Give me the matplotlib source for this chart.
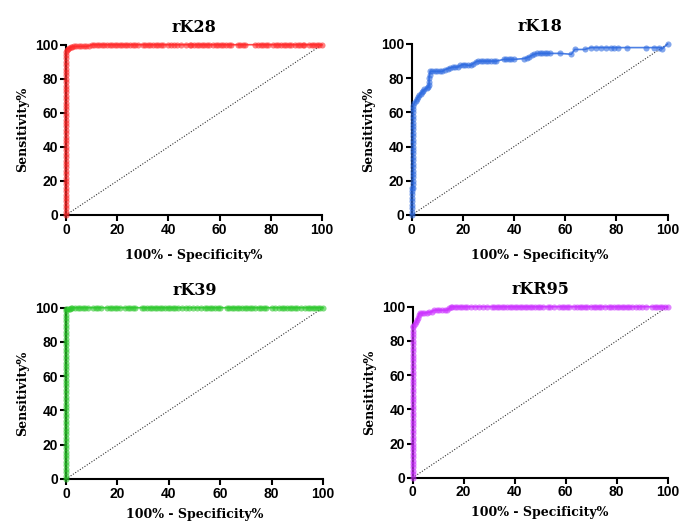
import matplotlib
matplotlib.use("Agg")
import matplotlib.pyplot as plt
import numpy as np

# ---------------- data ----------------
titles = ["rK28", "rK18", "rK39", "rKR95"]
colors = ["#ff2a2a", "#2f6be0", "#2ec82e", "#cc33ff"]
ticks = [0, 20, 40, 60, 80, 100]

# rK28
rk28_vert_tpr = [0, 2, 4, 6, 8, 10, 12, 14, 16, 18, 20, 22, 24, 26, 28, 30, 32, 34, 36, 38,
                 40, 42, 44, 46, 48, 50, 52, 54, 56, 58, 60, 62, 64, 66, 68, 70, 72, 74, 76,
                 78, 80, 82, 84, 86, 88, 90, 92, 94, 96]
rk28_knee_fpr = [0.3, 0.7, 1.2, 1.8, 2.5, 3.3, 4, 5, 6, 7, 8, 9, 10]
rk28_knee_tpr = [97, 97.5, 98, 98.5, 98.8, 99, 99, 99, 99, 99, 99, 99.3, 100]
rk28_top_fpr = [11, 12, 13, 14, 15, 16, 17, 18, 19, 20, 21, 22, 23, 24, 25, 26, 27, 28,
                30, 31, 32, 33, 34, 35, 36, 37, 38, 40, 41, 42, 43.5, 45, 47, 48.5, 49, 50,
                51, 52, 53, 54, 55, 56, 57.5, 58.5, 59.5, 60.5, 61.5, 62.5, 63.5, 64.5,
                67, 68, 69, 70, 74, 75, 76, 77, 78, 79, 81, 82, 83, 84, 85, 86, 87, 88,
                89.5, 90.5, 91.5, 92.5, 93, 95, 96, 97, 98, 99, 100]

# rK18
rk18_vert_tpr = [0, 2, 4, 6, 8, 10, 12, 14, 15.5]
rk18_step_tpr = [16, 18, 20, 22, 24, 26, 28, 30, 32, 34, 36, 38, 40, 42, 44, 46, 48, 50,
                 52, 54, 56, 58, 60, 62, 64]
rk18_curve_fpr = [1, 1.5, 2, 2.5, 3, 3.5, 4, 4.5, 5, 5.8, 6.5, 6.8, 6.8, 6.8, 7, 7.2, 8, 9,
                  10, 11, 12, 13, 14, 15, 16, 17, 18, 19, 20, 21, 22, 23, 24, 25, 26, 27,
                  28, 29, 30, 31, 32, 33, 36, 37, 38, 39, 40, 44, 45, 46, 47, 48, 49, 50,
                  51, 52, 53, 54, 58, 62.4, 63.7, 67.6, 70, 72, 74, 76, 78, 79, 80.5, 84,
                  91.5, 94.8, 96.8, 98, 100]
rk18_curve_tpr = [65.5, 66.5, 68, 69, 70, 71, 72, 72.5, 73.5, 74, 75, 76, 78, 80, 82, 84,
                  84, 84, 84, 84, 84, 85, 85.5, 86, 86.5, 86.5, 86.5, 87.5, 88, 88, 87.5,
                  87.5, 88.5, 89.5, 90, 90, 90, 90, 90, 90, 90, 90, 91, 91, 91, 91, 91,
                  91.5, 92, 92.5, 93.5, 94, 94.5, 94.5, 94.5, 94.5, 94.5, 94.5, 94.5, 94,
                  96.8, 96.8, 97.9, 97.9, 97.9, 97.9, 97.9, 97.9, 97.9, 97.9, 97.9, 97.9,
                  97.9, 97.3, 100]

# rK39
rk39_vert_tpr = [0, 2, 4, 6, 8, 10, 12, 14, 16, 18, 20, 22, 24, 26, 28, 30, 32, 34, 36, 38,
                 40, 42, 44, 46, 48, 50, 52, 54, 56, 58, 60, 62, 64, 66, 68, 70, 72, 74, 76,
                 78, 80, 82, 84, 86, 88, 90, 92, 94, 96, 98, 99]
rk39_knee_fpr = [0.5, 1, 1.5, 2]
rk39_knee_tpr = [99, 99, 99.3, 99.6]
rk39_top_fpr = [2.5, 3.5, 4.5, 5.5, 6.5, 7.5, 8.5, 10.5, 11.5, 12.5, 13.5, 16, 17, 18, 19,
                20, 21, 23, 24, 25, 26, 27, 29.5, 30.5, 31.5, 32.5, 33.5, 34.5, 35.5, 36.5,
                37.5, 38.5, 39.5, 40.5, 41.5, 42.5, 43.5, 45, 46.5, 48, 49.5, 51, 52.5, 54,
                55, 56, 57, 58, 59, 60, 62.5, 63.5, 64.5, 65.5, 66.5, 67.5, 68.5, 69.5,
                70.5, 71.5, 72.5, 73.5, 75, 76, 77, 78, 80, 81.5, 83, 84, 85, 86, 87, 88,
                89, 90, 91.5, 93, 94, 95, 96, 97, 98, 99, 100]

# rKR95
rkr95_vert_tpr = [0, 2, 4, 6, 8, 10, 12, 14, 16, 18, 20, 22, 24, 26, 28, 30, 32, 34, 36,
                  38, 40, 42, 44, 46, 48, 50, 52, 54, 56, 58, 60, 62, 64, 66, 68, 70, 72,
                  74, 76, 78, 80, 82, 84, 86, 88]
rkr95_knee_fpr = [0.3, 0.8, 1.2, 1.6, 2, 2.3, 2.7, 3.5, 4.5, 5.5, 6.5, 7.5, 8.3, 9.5, 10.5,
                  11.5, 12.5, 13.5, 14.3, 15]
rkr95_knee_tpr = [89, 90, 91, 92, 93.5, 95, 96.3, 96.3, 96.3, 96.5, 96.8, 97, 98, 98, 98,
                  98, 98, 98, 99, 100]
rkr95_top_fpr = [15.5, 16.5, 17.5, 18.5, 19.5, 20.5, 21.5, 23, 24.5, 26, 27.5, 29, 31, 32,
                 33, 34, 35, 36, 37, 38, 39, 40, 41, 42, 43, 44, 45, 46, 47, 48, 49, 50,
                 51, 53, 54, 55.5, 57.5, 58.5, 59.5, 60.5, 61.5, 63.5, 64.5, 65.5, 66.5,
                 67.5, 68.5, 70, 71, 72, 73, 74, 75.5, 77, 78, 79, 80, 81, 82, 83, 84, 85,
                 86, 87.5, 89, 90, 91.5, 94, 95, 96, 97, 98, 99, 100]


def build(vert_tpr, knee_fpr, knee_tpr, top_fpr):
    fpr = [0.0 for _ in vert_tpr] + list(knee_fpr) + list(top_fpr)
    tpr = list(vert_tpr) + list(knee_tpr) + [100.0 for _ in top_fpr]
    return fpr, tpr


curves = [
    build(rk28_vert_tpr, rk28_knee_fpr, rk28_knee_tpr, rk28_top_fpr),
    ([0.0 for _ in rk18_vert_tpr] + [0.6 for _ in rk18_step_tpr] + rk18_curve_fpr,
     rk18_vert_tpr + rk18_step_tpr + rk18_curve_tpr),
    build(rk39_vert_tpr, rk39_knee_fpr, rk39_knee_tpr, rk39_top_fpr),
    build(rkr95_vert_tpr, rkr95_knee_fpr, rkr95_knee_tpr, rkr95_top_fpr),
]

# ---------------- layout ----------------
W, H = 680, 522
fig = plt.figure(figsize=(W / 100, H / 100), dpi=100)

# axes rects in pixels: (x0, x1, ytop, ybottom)
rects_px = [
    (66, 322, 44.7, 215),
    (411.7, 667.5, 44, 215),
    (66, 323, 307.7, 479),
    (412.7, 667.5, 306.7, 477.7),
]
xlabel_pads = [9, 9, 5, 5]

for i, (x0, x1, yt, yb) in enumerate(rects_px):
    ax = fig.add_axes([x0 / W, 1 - yb / H, (x1 - x0) / W, (yb - yt) / H])
    fpr, tpr = curves[i]
    ax.plot([0, 100], [0, 100], linestyle=(0, (1, 1.5)), color="#333333",
            linewidth=0.8, zorder=1)
    ax.plot(fpr, tpr, color=colors[i], linewidth=1.2, alpha=0.85, zorder=2,
            clip_on=False)
    ax.plot(fpr, tpr, linestyle="none", marker="o", markersize=4.4,
            color=colors[i], alpha=0.6, markeredgewidth=0, zorder=3, clip_on=False)

    ax.set_xlim(0, 100)
    ax.set_ylim(0, 100)
    ax.set_xticks(ticks)
    ax.set_yticks(ticks)
    ax.set_xticklabels([str(t) for t in ticks], fontfamily="Liberation Sans",
                       fontweight="bold", fontsize=10)
    ax.set_yticklabels([str(t) for t in ticks], fontfamily="Liberation Sans",
                       fontweight="bold", fontsize=10)
    for s in ["top", "right"]:
        ax.spines[s].set_visible(False)
    for s in ["left", "bottom"]:
        ax.spines[s].set_linewidth(1.5)
    ax.tick_params(direction="out", length=4, width=1.5, pad=1.5)
    ax.set_title(titles[i], fontfamily="DejaVu Serif", fontweight="bold",
                 fontsize=11.5, pad=9)
    ax.set_xlabel("100% - Specificity%", fontfamily="DejaVu Serif",
                  fontweight="bold", fontsize=9, labelpad=xlabel_pads[i])
    ax.set_ylabel("Sensitivity%", fontfamily="DejaVu Serif",
                  fontweight="bold", fontsize=9, labelpad=4)

fig.savefig("out.png", dpi=100)
